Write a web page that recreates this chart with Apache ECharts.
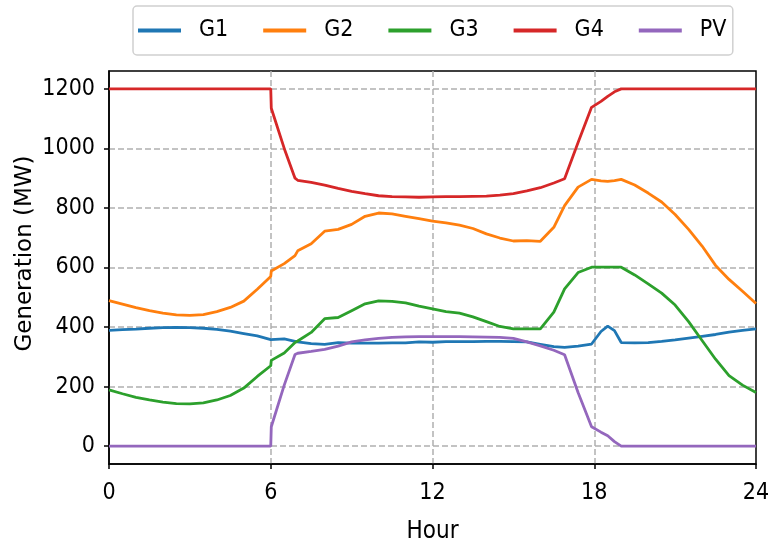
<!DOCTYPE html>
<html>
<head>
<meta charset="utf-8">
<title>Generation by unit</title>
<script src="https://cdn.jsdelivr.net/npm/echarts@6/dist/echarts.min.js"></script>
<style>
  html, body { margin: 0; padding: 0; background: #ffffff; }
  #chart { width: 769px; height: 544px; }
</style>
</head>
<body>
<div id="chart"></div>
<script>
// Hour of day for every sample
const hours = [0, 0.5, 1, 1.5, 2, 2.5, 3, 3.5, 4, 4.5, 5, 5.5, 6.0, 6.02, 6.5, 6.9, 7, 7.5, 8, 8.5,
  9, 9.5, 10, 10.5, 11, 11.5, 12, 12.5, 13, 13.5, 14, 14.5, 15, 15.5, 16, 16.5, 16.9, 17.4,
  17.9, 18.25, 18.5, 18.75, 19, 19.5, 20, 20.5, 21, 21.5, 22, 22.5, 23, 23.5, 24];

// Generation of each unit (MW)
const g1 = [389, 391, 393, 396, 398, 399, 398, 396, 392, 386, 378, 370, 358, 360, 360, 352, 350, 344, 342, 348,
  346, 346, 346, 347, 347, 350, 349, 351, 351, 351, 352, 352, 351, 350, 342, 334, 332, 336,
  343, 385, 403, 388, 348, 347, 348, 352, 357, 363, 369, 375, 383, 389, 394];
const g2 = [489, 477, 465, 455, 447, 441, 439, 442, 452, 466, 487, 527, 570, 588, 613, 640, 656, 680, 722, 728,
  745, 772, 783, 780, 772, 764, 756, 750, 742, 731, 713, 699, 689, 690, 688, 735, 808, 870,
  896, 891, 889, 892, 896, 877, 850, 820, 778, 728, 672, 607, 560, 520, 479];
const g3 = [189, 176, 164, 155, 148, 143, 142, 145, 155, 170, 195, 234, 270, 288, 313, 348, 353, 382, 428, 432,
  455, 478, 488, 486, 481, 470, 461, 452, 447, 434, 418, 402, 394, 394, 394, 450, 528, 583,
  601, 601, 601, 601, 601, 575, 545, 514, 474, 418, 355, 292, 237, 205, 180];
const g4 = [1200, 1200, 1200, 1200, 1200, 1200, 1200, 1200, 1200, 1200, 1200, 1200, 1200, 1135, 1000, 900, 893, 886, 877, 866,
  856, 848, 841, 838, 837, 836, 837, 838, 838, 839, 840, 843, 848, 857, 868, 884, 898, 1020,
  1138, 1158, 1175, 1190, 1200, 1200, 1200, 1200, 1200, 1200, 1200, 1200, 1200, 1200, 1200];
const pv = [0, 0, 0, 0, 0, 0, 0, 0, 0, 0, 0, 0, 0, 65, 205, 308, 312, 318, 325, 336,
  350, 357, 362, 365, 367, 368, 368, 368, 368, 367, 366, 365, 362, 350, 337, 322, 307, 180,
  65, 47, 35, 15, 0, 0, 0, 0, 0, 0, 0, 0, 0, 0, 0];

const seriesNames = ['G1', 'G2', 'G3', 'G4', 'PV'];
const seriesValues = [g1, g2, g3, g4, pv];
const colors = ['#1f77b4', '#ff7f0e', '#2ca02c', '#d62728', '#9467bd'];

const xTicks = [0, 6, 12, 18, 24];
const xGridLines = [6, 12, 18];
const yTicks = [0, 200, 400, 600, 800, 1000, 1200];

const narrow = "'Liberation Sans Narrow', 'DejaVu Sans Condensed', 'DejaVu Sans', sans-serif";
const gridLine = { show: true, lineStyle: { color: '#b0b0b0', width: 1.5, type: [6, 3] } };

const chart = echarts.init(document.getElementById('chart'), null, { renderer: 'canvas' });

const option = {
  animation: false,
  backgroundColor: '#ffffff',
  color: colors,
  grid: {
    left: 109, right: 13, top: 71, bottom: 80,
    containLabel: false, outerBoundsMode: 'none',
    show: true, borderColor: '#000000', borderWidth: 1.5, backgroundColor: 'transparent'
  },
  legend: {
    data: seriesNames,
    left: 133, top: 6,
    icon: 'rect',
    itemWidth: 43, itemHeight: 4,
    itemGap: 35,
    padding: [12, 4, 12, 5],
    backgroundColor: '#ffffff',
    borderColor: '#d0d0d0', borderWidth: 1.5, borderRadius: 4,
    textStyle: {
      fontFamily: narrow, fontSize: 23, color: '#000000',
      width: 29, lineHeight: 25, padding: [0, 0, 0, 13]
    }
  },
  xAxis: [
    {
      type: 'value', min: xTicks[0], max: xTicks[xTicks.length - 1], interval: 6,
      name: 'Hour', nameLocation: 'middle', nameGap: 56, nameMoveOverlap: false,
      nameTextStyle: { fontFamily: narrow, fontSize: 24, color: '#000000' },
      axisLine: { show: true, onZero: false, lineStyle: { color: '#000000', width: 1.5 } },
      axisTick: { show: true, inside: false, length: 5, lineStyle: { color: '#000000', width: 1.5 } },
      axisLabel: { fontFamily: narrow, fontSize: 23, color: '#000000', margin: 18 },
      splitLine: { show: false }
    },
    {
      // inner vertical grid lines only
      type: 'value', min: xTicks[0], max: xTicks[xTicks.length - 1], position: 'bottom',
      axisLine: { show: false },
      axisTick: { show: false, customValues: xGridLines },
      axisLabel: { show: false, customValues: xGridLines },
      splitLine: gridLine
    }
  ],
  yAxis: {
    type: 'value', min: -60, max: 1260,
    name: 'Generation (MW)', nameLocation: 'middle', nameGap: 72, nameMoveOverlap: false,
    nameTextStyle: { fontFamily: 'DejaVu Sans', fontSize: 23, color: '#000000', padding: [0, 0, 0, 28] },
    axisLine: { show: true, onZero: false, lineStyle: { color: '#000000', width: 1.5 } },
    axisTick: { show: true, inside: false, length: 5, customValues: yTicks, lineStyle: { color: '#000000', width: 1.5 } },
    axisLabel: {
      fontFamily: narrow, fontSize: 23, color: '#000000', margin: 14, customValues: yTicks,
      formatter: v => String(v)
    },
    splitLine: gridLine
  },
  series: seriesNames.map((name, i) => ({
    name: name,
    type: 'line',
    xAxisIndex: 0,
    showSymbol: false,
    symbol: 'none',
    data: hours.map((h, k) => [h, seriesValues[i][k]]),
    lineStyle: { width: 2.8, color: colors[i] },
    itemStyle: { color: colors[i] },
    z: 2 + i
  }))
};

chart.setOption(option);
</script>
</body>
</html>
